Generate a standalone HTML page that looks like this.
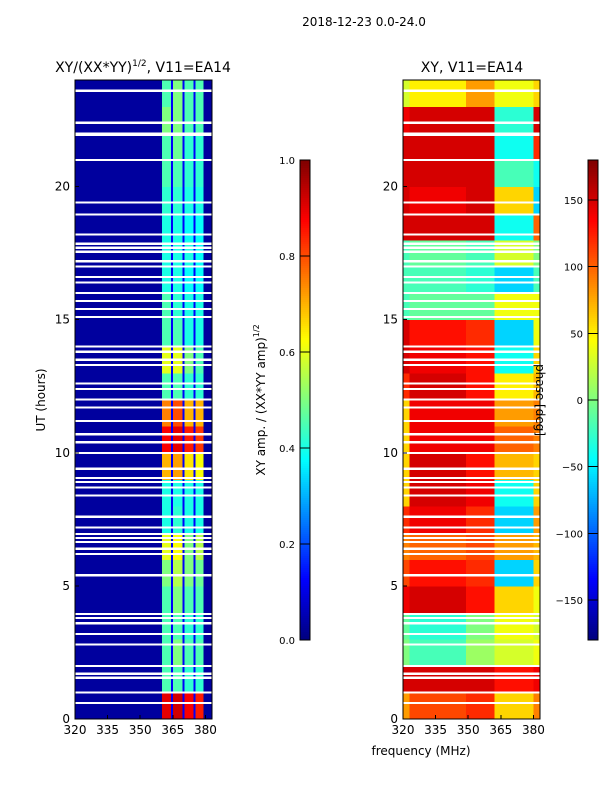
<!DOCTYPE html>
<html><head><meta charset="utf-8">
<style>
body{margin:0;background:#fff;width:600px;height:800px;overflow:hidden;font-family:"Liberation Sans","DejaVu Sans",sans-serif;}
svg text{font-family:"DejaVu Sans","Liberation Sans",sans-serif;fill:#000;}
</style></head><body>
<svg id="fig" width="600" height="800" viewBox="0 0 600 800" xmlns="http://www.w3.org/2000/svg">
<text x="364" y="26" font-size="12" text-anchor="middle">2018-12-23 0.0-24.0</text>
<text x="143" y="72" font-size="14" text-anchor="middle">XY/(XX*YY)<tspan dy="-6" font-size="9">1/2</tspan><tspan dy="6">, V11=EA14</tspan></text>
<text x="472" y="72" font-size="14" text-anchor="middle">XY, V11=EA14</text>
<g id="left"></g>
<g id="right"></g>
<g id="axes"></g>
<text transform="translate(45,400) rotate(-90)" font-size="12" text-anchor="middle">UT (hours)</text>
<text x="421" y="755" font-size="12" text-anchor="middle">frequency (MHz)</text>
<text transform="translate(265,400) rotate(-90)" font-size="12" text-anchor="middle">XY amp. / (XX*YY amp)<tspan dy="-6" font-size="8">1/2</tspan></text>
<text transform="translate(536,400) rotate(90)" font-size="12" text-anchor="middle">phase [deg]</text>
</svg>
<script>
// ---- data ----
const hours=[0,1,2,3,4,5,6,7,8,9,10,11,12,13,14,15,16,17,18,19,20,21,22,23];
const ampFreqEdges=[320,360,364.1,365,369.4,370.4,374.5,375.3,379.1,383];
const ampBackground=0.03;
const ampGapValue=0.12;
const ampCol1=[0.9,0.45,0.45,0.45,0.45,0.5,0.6,0.4,0.4,0.7,0.88,0.75,0.45,0.6,0.45,0.45,0.4,0.4,0.4,0.42,0.45,0.45,0.5,0.45];
const ampCol2=[0.92,0.45,0.5,0.45,0.5,0.55,0.62,0.42,0.4,0.72,0.9,0.8,0.45,0.6,0.45,0.42,0.4,0.4,0.4,0.42,0.45,0.48,0.5,0.5];
const ampCol3=[0.88,0.42,0.45,0.42,0.45,0.5,0.5,0.4,0.4,0.65,0.85,0.7,0.42,0.5,0.4,0.4,0.38,0.4,0.38,0.4,0.42,0.42,0.45,0.45];
const ampCol4=[0.85,0.42,0.45,0.42,0.45,0.48,0.55,0.4,0.4,0.62,0.82,0.7,0.42,0.45,0.4,0.4,0.38,0.38,0.38,0.4,0.42,0.42,0.45,0.45];
const phaseFreqEdges=[320,323,349,362,380,383];
const phBin1=[80,150,0,-10,140,110,90,120,60,60,60,60,120,150,150,-20,-20,-20,150,150,150,150,140,30];
const phBin2=[110,150,-20,-30,150,130,100,140,150,150,140,140,150,140,130,-10,-20,-10,150,140,150,150,150,50];
const phBin3=[120,150,10,0,130,120,110,120,140,130,140,140,130,130,120,-10,-30,-20,150,150,150,150,150,80];
const phBin4=[60,130,30,40,60,-60,80,-60,-40,70,100,80,50,-40,-60,40,-60,30,-40,60,-20,-40,-30,40];
const phBin5=[90,140,40,30,40,60,70,80,60,60,90,90,70,60,40,40,-20,0,100,-60,-40,120,150,60];
const gapHours=[23.6,22.4,22.0,21.95,21.0,19.4,18.95,18.2,17.85,17.7,17.55,17.2,17.0,16.6,16.4,16.0,15.7,15.4,15.1,14.0,13.8,13.5,13.3,12.6,12.4,12.0,11.7,11.2,10.7,10.4,10.0,9.4,9.05,8.9,8.7,8.4,7.6,7.2,6.95,6.8,6.65,6.4,6.2,5.4,3.95,3.8,3.6,3.2,2.8,2.0,1.7,1.55,1.0,0.6];
const ampTicks=[0,0.2,0.4,0.6,0.8,1.0];
const ampTickLabels=["0.0","0.2","0.4","0.6","0.8","1.0"];
const phaseTicks=[-150,-100,-50,0,50,100,150];
const phaseTickLabels=["\u2212150","\u2212100","\u221250","0","50","100","150"];
const freqTicks=[320,335,350,365,380];
const hourTicks=[0,5,10,15,20];

// ---- helpers ----
const NS="http://www.w3.org/2000/svg";
function jet(v){v=Math.max(0,Math.min(1,v));
 const r=Math.max(0,Math.min(1,1.5-Math.abs(4*v-3))),g=Math.max(0,Math.min(1,1.5-Math.abs(4*v-2))),b=Math.max(0,Math.min(1,1.5-Math.abs(4*v-1)));
 return `rgb(${Math.round(r*255)},${Math.round(g*255)},${Math.round(b*255)})`;}
const plotTop=80,plotBot=719;
function yH(h){return plotBot-(h/24)*(plotBot-plotTop);}
function xL(f){return 75+(f-320)*(137/63);}
function xR(f){return 403+(f-320)*(137/63);}
function rect(g,x,y,w,h,fill){const r=document.createElementNS(NS,'rect');
 r.setAttribute('x',x);r.setAttribute('y',y);r.setAttribute('width',w);r.setAttribute('height',h);r.setAttribute('fill',fill);
 r.setAttribute('shape-rendering','crispEdges');g.appendChild(r);return r;}
function txt(x,y,s,anchor,size){const t=document.createElementNS(NS,'text');
 t.setAttribute('x',x);t.setAttribute('y',y);t.setAttribute('font-size',size||12);t.setAttribute('text-anchor',anchor);t.textContent=s;
 document.getElementById('fig').appendChild(t);return t;}

// ---- left heatmap ----
const L=document.getElementById('left');
const ampCols=[ampCol1,ampCol2,ampCol3,ampCol4];
hours.forEach((h,i)=>{
 for(let b=0;b<ampFreqEdges.length-1;b++){
  let v=ampBackground;
  if(b>=1&&b<=7){v=(b%2===1)?ampCols[(b-1)/2][i]:ampGapValue;}
  const x0=xL(ampFreqEdges[b]),x1=xL(ampFreqEdges[b+1]);
  const c=rect(L,x0,yH(h+1),x1-x0+0.5,yH(h)-yH(h+1)+0.5,jet(v));
  
  
 }
});
// ---- right heatmap ----
const R=document.getElementById('right');
const phBins=[phBin1,phBin2,phBin3,phBin4,phBin5];
hours.forEach((h,i)=>{
 for(let b=0;b<phaseFreqEdges.length-1;b++){
  const v=(phBins[b][i]+180)/360;
  const x0=xR(phaseFreqEdges[b]),x1=xR(phaseFreqEdges[b+1]);
  const c=rect(R,x0,yH(h+1),x1-x0+0.5,yH(h)-yH(h+1)+0.5,jet(v));
  
  
 }
});
// flagged gaps
gapHours.forEach(h=>{
 const a=rect(L,75,yH(h)-1,137,2.2,'#fff');
 
 
 const b=rect(R,403,yH(h)-1,137,2.2,'#fff');
 
 
});
// ---- axes ----
const A=document.getElementById('axes');
[[75,'left'],[403,'right']].forEach(([x0,nm])=>{
 const f=document.createElementNS(NS,'rect');
 f.setAttribute('x',x0);f.setAttribute('y',plotTop);f.setAttribute('width',137);f.setAttribute('height',plotBot-plotTop);
 f.setAttribute('fill','none');f.setAttribute('stroke','#000');f.setAttribute('stroke-width','1');
 
 
 A.appendChild(f);
 const xf=nm==='left'?xL:xR;
 freqTicks.forEach(t=>{
  const l=txt(xf(t),734,String(t),'middle',12);
  
  
  rect(A,xf(t)-0.5,plotBot-4,1,4,'#000');
 });
 hourTicks.forEach(t=>{
  const l=txt(x0-5,yH(t)+4,String(t),'end',12);
  
  
  rect(A,x0,yH(t)-0.5,4,1,'#000');
 });
});
// ---- colorbars ----
function colorbar(x,ticks,labels,lo,hi,name){
 for(let k=0;k<240;k++){const v=k/239;
  rect(A,x,640-(k+1)*2,10,2.2,jet(v));}
 const f=document.createElementNS(NS,'rect');
 f.setAttribute('x',x);f.setAttribute('y',160);f.setAttribute('width',10);f.setAttribute('height',480);
 f.setAttribute('fill','none');f.setAttribute('stroke','#000');f.setAttribute('stroke-width','1');
 
 
 A.appendChild(f);
 ticks.forEach((t,i)=>{const y=640-(t-lo)/(hi-lo)*480;
  rect(A,x,y-0.5,10,1,'#000');
  const l=txt(x-5,y+4,labels[i],'end',10);
  
  });
}
colorbar(300,ampTicks,ampTickLabels,0,1,'amp-colorbar');
colorbar(588,phaseTicks,phaseTickLabels,-180,180,'phase-colorbar');
</script>
</body></html>
